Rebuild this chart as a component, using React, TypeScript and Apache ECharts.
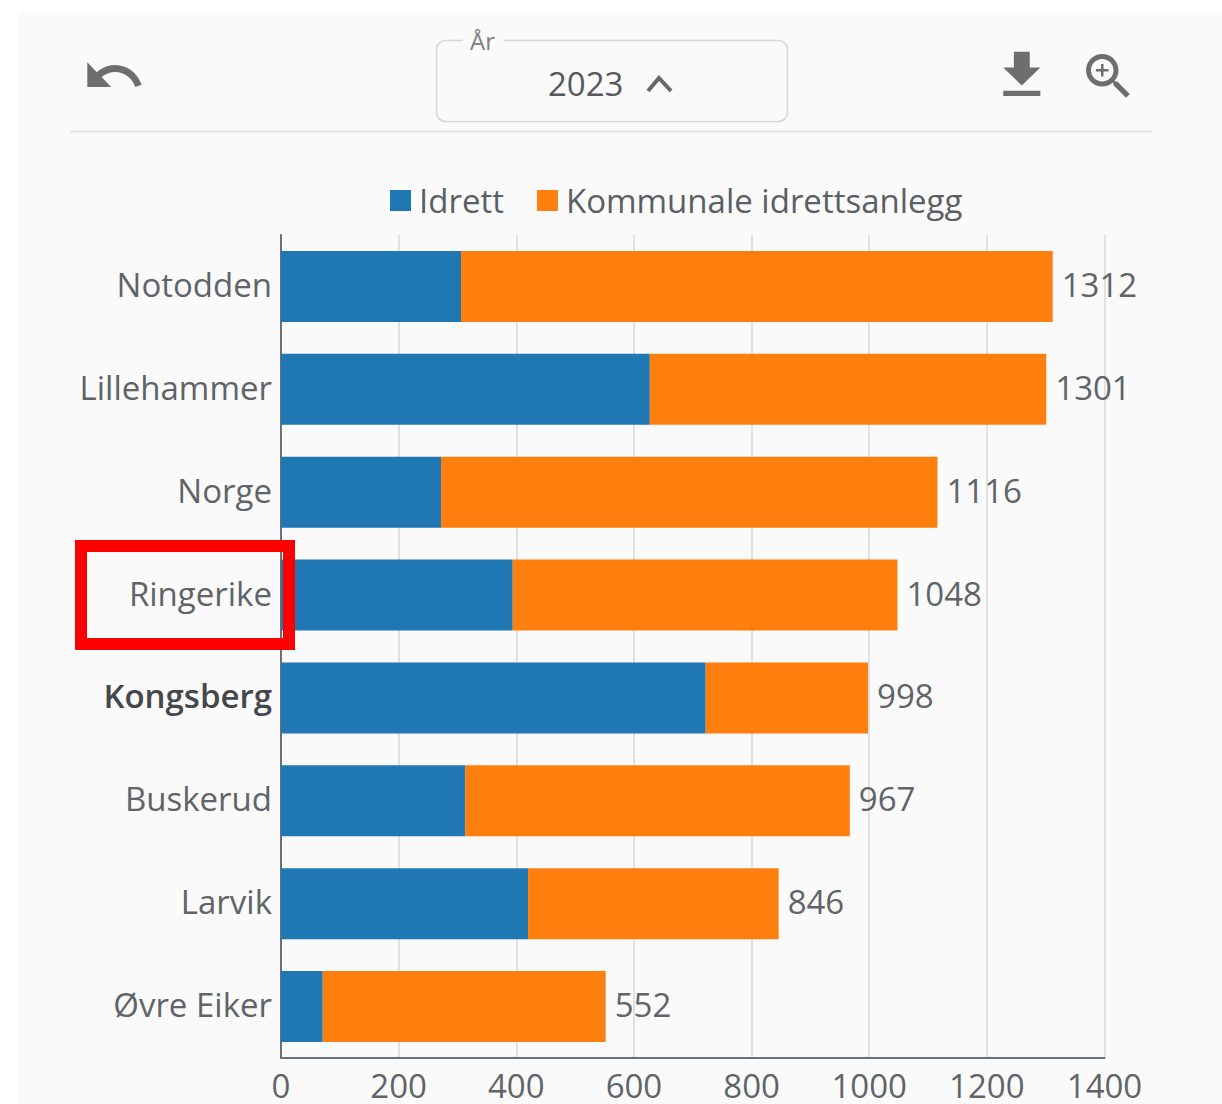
import React, { useEffect, useRef } from "react";
import * as echarts from "echarts";

const categories = ["Notodden", "Lillehammer", "Norge", "Ringerike", "Kongsberg", "Buskerud", "Larvik", "Øvre Eiker"];
const boldCategory = "Kongsberg";
const idrett = [306, 627, 272, 394, 722, 313, 420, 71];
const anlegg = [1006, 674, 844, 654, 276, 654, 426, 481];
const totals = [1312, 1301, 1116, 1048, 998, 967, 846, 552];
const seriesNames = ["Idrett", "Kommunale idrettsanlegg"];
const FONT = '"Open Sans", sans-serif';

echarts.graphic.registerShape("undoIcon", echarts.graphic.extendPath("M12.5 8c-2.65 0-5.05.99-6.9 2.6L2 7v9h9l-3.62-3.62c1.39-1.16 3.16-1.88 5.12-1.88 3.54 0 6.55 2.31 7.6 5.5l2.37-.78C21.08 11.03 17.15 8 12.5 8z", {}));
echarts.graphic.registerShape("downloadIcon", echarts.graphic.extendPath("M19 9h-4V3H9v6H5l7 7 7-7zM5 18v2h14v-2H5z", {}));
echarts.graphic.registerShape("zoomIcon", echarts.graphic.extendPath("M15.5 14h-.79l-.28-.27C15.41 12.59 16 11.11 16 9.5 16 5.91 13.09 3 9.5 3S3 5.91 3 9.5 5.91 16 9.5 16c1.61 0 3.09-.59 4.23-1.57l.27.28v.79l5 4.99L20.49 19l-4.99-5zm-6 0C7.01 14 5 11.99 5 9.5S7.01 5 9.5 5 14 7.01 14 9.5 11.99 14 9.5 14z M12 10h-2v2h-1v-2H7V9h2V7h1v2h2v1z", {}));

export default function App() {
  const ref = useRef<HTMLDivElement>(null);
  useEffect(() => {
    const chart = echarts.init(ref.current!, null, { renderer: "svg" });
    chart.setOption({
      animation: false,
      textStyle: { fontFamily: FONT },
      legend: {
        left: 385,
        top: 179,
        icon: "rect",
        itemWidth: 21,
        itemHeight: 21,
        itemGap: 33,
        data: seriesNames,
        selectedMode: false,
        textStyle: { fontSize: 33, color: "#5a5f63", fontFamily: FONT, padding: [0, 0, 0, 3] },
      },
      grid: { left: 281, right: 117.5, top: 235, bottom: 46 },
      xAxis: {
        type: "value",
        min: 0,
        max: 1400,
        interval: 200,
        axisLine: { show: true, lineStyle: { color: "#6b7074", width: 2 } },
        axisTick: { show: false },
        splitLine: { show: true, lineStyle: { color: "#d5dade", width: 1.5 } },
        axisLabel: {
          fontSize: 33,
          lineHeight: 33,
          color: "#5f6468",
          margin: 11,
          fontFamily: FONT,
          formatter: (v: number) => String(v),
        },
      },
      yAxis: {
        type: "category",
        inverse: true,
        data: categories,
        axisLine: { show: true, lineStyle: { color: "#6b7074", width: 2 } },
        axisTick: { show: false },
        axisLabel: {
          margin: 9,
          formatter: (v: string) => (v === boldCategory ? `{b|${v}}` : `{t|${v}}`),
          rich: {
            t: { fontSize: 33, color: "#5f6468", fontFamily: FONT, padding: [0, 0, 4, 0] },
            b: { fontSize: 33, color: "#44484b", fontWeight: 600, fontFamily: FONT, padding: [0, 0, 4, 0] },
          },
        },
      },
      series: [
        {
          name: seriesNames[0],
          type: "bar",
          stack: "a",
          barWidth: 71,
          itemStyle: { color: "#1f77b4" },
          data: idrett,
        },
        {
          name: seriesNames[1],
          type: "bar",
          stack: "a",
          barWidth: 71,
          itemStyle: { color: "#ff7f0e" },
          label: {
            show: true,
            position: "right",
            distance: 9,
            offset: [0, -2],
            fontSize: 33,
            color: "#5f6468",
            fontFamily: FONT,
            formatter: (p: any) => String(totals[p.dataIndex]),
          },
          data: anlegg,
        },
      ],
      graphic: [
        { type: "line", z: 50, shape: { x1: 70, y1: 131.5, x2: 1152, y2: 131.5 }, style: { stroke: "#e2e4e6", lineWidth: 2 } },
        { type: "rect", z: 50, shape: { x: 436.5, y: 40.5, width: 351, height: 81, r: 9 }, style: { fill: "none", stroke: "#d4d6d8", lineWidth: 1.5 } },
        { type: "rect", z: 51, shape: { x: 463, y: 34, width: 41, height: 12 }, style: { fill: "#fafafa" } },
        { type: "text", z: 52, x: 470, y: 28, style: { text: "År", fontSize: 24, fontFamily: FONT, fill: "#7c8084" } },
        { type: "text", z: 52, x: 548, y: 67, style: { text: "2023", fontSize: 33, fontFamily: FONT, fill: "#55595c" } },
        { type: "polyline", z: 52, shape: { points: [[648, 91], [659, 78], [671, 91]] }, style: { fill: "none", stroke: "#66696c", lineWidth: 4 } },
        { type: "undoIcon", z: 52, x: 82, y: 43, scaleX: 2.65, scaleY: 2.75, style: { fill: "#6e6e6e" } },
        { type: "downloadIcon", z: 52, x: 990, y: 44, scaleX: 2.65, scaleY: 2.6, style: { fill: "#6e6e6e" } },
        { type: "zoomIcon", z: 52, x: 1078.5, y: 46.5, scaleX: 2.5, scaleY: 2.5, style: { fill: "#6e6e6e" } },
        { type: "rect", z: 100, shape: { x: 81, y: 546, width: 208, height: 98 }, style: { fill: "none", stroke: "#ff0000", lineWidth: 12 } },
      ],
    });
    return () => chart.dispose();
  }, []);
  return (
    <div style={{ position: "absolute", left: 0, top: 0, width: 1222, height: 1104, background: "#ffffff", overflow: "hidden" }}>
      <div style={{ position: "absolute", left: 19, top: 13, width: 1203, height: 1091, background: "#fafafa" }} />
      <div ref={ref} style={{ position: "absolute", left: 0, top: 0, width: 1222, height: 1104 }} />
    </div>
  );
}
